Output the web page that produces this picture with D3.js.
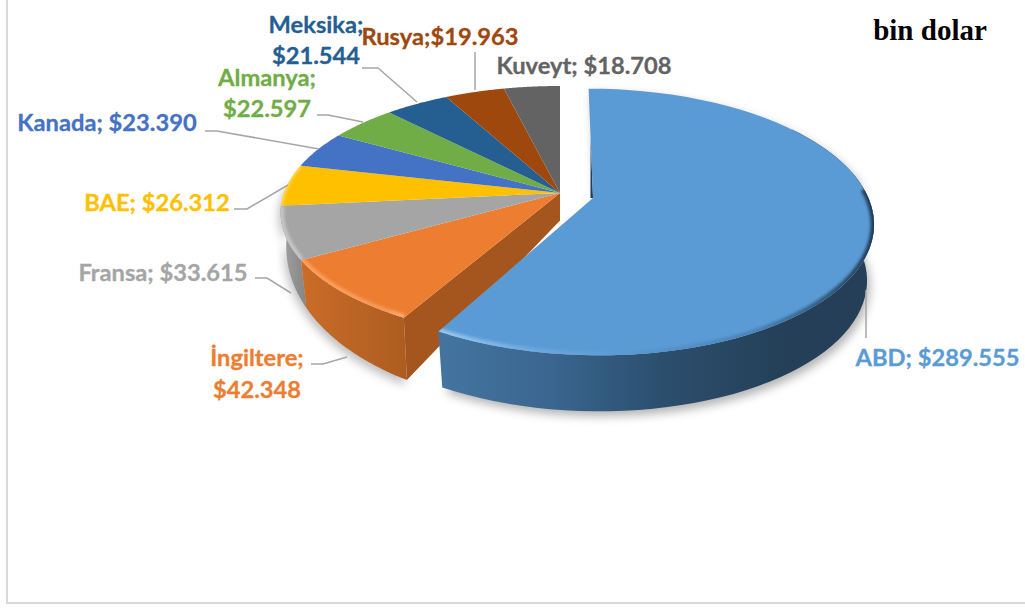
<!DOCTYPE html>
<html><head><meta charset="utf-8">
<script src="https://cdn.jsdelivr.net/npm/d3@7"></script>
<style>html,body{margin:0;padding:0;background:#fff}svg{display:block}</style>
</head><body><svg id="c" width="1025" height="608"></svg>
<script>
const categories = ["ABD","İngiltere","Fransa","BAE","Kanada","Almanya","Meksika","Rusya","Kuveyt"];
const values = [289555,42348,33615,26312,23390,22597,21544,19963,18708];
const valueLabels = ["$289.555","$42.348","$33.615","$26.312","$23.390","$22.597","$21.544","$19.963","$18.708"];
const colors = ["#5B9BD5","#ED7D31","#A5A5A5","#FFC000","#4472C4","#70AD47","#255E91","#9E480E","#636363"];
const unitLabel = "bin dolar";

const labelLines = categories.map((c,i)=>{
  if(c==="Rusya") return [c+";"+valueLabels[i]];
  if(["Meksika","Almanya","İngiltere"].includes(c)) return [c+";",valueLabels[i]];
  return [c+"; "+valueLabels[i]];
});
const labelX = [937.5,257,163,157,107,267,316,440,584];
const labelY = [[366],[366,398],[281],[211],[131],[86,117],[33,64],[45],[74]];
const leaders = [
 [[866,290],[866,338]],
 [[347,357],[323,364],[311,364]],
 [[291,293],[267,278],[255,278]],
 [[288,185],[247,209],[234,209]],
 [[319,149],[217,131],[205,131]],
 [[363,122],[328,115],[317,115]],
 [[417,102],[378,68],[362,68]],
 [[475,90],[475,52]],
 null
];

const svg = d3.select("#c");
const defs = svg.append("defs");
const blur=(id,s)=>defs.append("filter").attr("id",id).attr("filterUnits","userSpaceOnUse")
  .attr("x",0).attr("y",0).attr("width",1025).attr("height",608)
  .append("feGaussianBlur").attr("stdDeviation",s);
blur("b1",1.6); blur("b2",5);
const grad=(id,x1,x2,stops)=>{
  const g=defs.append("linearGradient").attr("id",id).attr("gradientUnits","userSpaceOnUse")
    .attr("x1",x1).attr("x2",x2).attr("y1",0).attr("y2",0);
  stops.forEach(s=>g.append("stop").attr("offset",s[0]).attr("stop-color",s[1]));
};
grad("wallBlue",445,790,[[0,"#43749F"],[.3,"#3A6690"],[.62,"#2C4F6E"],[1,"#243F57"]]);
grad("rimBlue",445,875,[[0,"#97C6F0"],[.2,"#6FA9DE"],[.4,"#5B9BD5"],[.72,"#4A82B4"],[1,"#1E3A53"]]);
grad("wallOrange",303,412,[[0,"#C96C28"],[1,"#AC5B20"]]);
grad("rimOrange",303,408,[[0,"#FFA05C"],[.8,"#F59A5A"],[1,"#FFB27E"]]);
grad("wallGray",283,306,[[0,"#A0A0A0"],[1,"#858585"]]);

const arcs = d3.pie().sort(null).value(d=>d)(values);

const small={ax:560,ay:193,R:276,S:123.6,k:.155,xs:.98,d0:27.5,d1:40,sh:0};
const big  ={ax:593,ay:198,R:275.5,S:129,k:.18,xs:.975,d0:56,d1:0,sh:.04};

function ptTop(t,g,r=1){
  const u=Math.sin(t)*r,v=-Math.cos(t)*r,w=1-g.k*v,Y=g.S*v/w;
  return [g.ax+g.R*u/w+g.sh*Y,g.ay+Y];
}
function ptLow(t,g,r=1){
  const p=ptTop(t,g,r),v=-Math.cos(t)*r;
  return [g.ax+(p[0]-g.ax)*g.xs,p[1]+g.d0+g.d1*v];
}
const line=d3.line();
const samples=(a,b,f,g)=>d3.range(0,61).map(i=>f(a+(b-a)*i/60,g));
const topFace=(a,g)=>line([[g.ax,g.ay],...samples(a.startAngle,a.endAngle,ptTop,g)])+"Z";
const wall=(a0,a1,g)=>line([...samples(a0,a1,ptTop,g),...samples(a0,a1,ptLow,g).reverse()])+"Z";
const rim=(a0,a1,g)=>line(samples(a0,a1,ptTop,g));

svg.append("rect").attr("x",7).attr("y",-3).attr("width",1030).attr("height",606)
  .attr("fill","#fff").attr("stroke","#D9D9D9").attr("stroke-width",2);

const rest=arcs.slice(1);
const a0=rest[0].startAngle,a1=rest[rest.length-1].endAngle;
svg.append("path").attr("d",wall(a0,a0+(a1-a0)*.45,small)).attr("fill","#888").attr("opacity",.55)
  .attr("transform","translate(-2,5)").attr("filter","url(#b2)");

svg.append("path").attr("d",wall(arcs[2].startAngle,arcs[2].endAngle,small)).attr("fill","url(#wallGray)");
svg.append("path").attr("d",wall(arcs[1].startAngle,arcs[1].endAngle,small)).attr("fill","url(#wallOrange)");
const c1=arcs[1].startAngle;
svg.append("path").attr("fill","#A5561F").attr("d",line([[small.ax,small.ay],ptTop(c1,small),ptLow(c1,small),[small.ax,small.ay+small.d0]])+"Z");

svg.append("g").selectAll("path").data(rest).join("path")
  .attr("d",d=>topFace(d,small)).attr("fill",d=>colors[d.index]);

const clip=(id,d)=>defs.append("clipPath").attr("id",id).append("path").attr("d",d);
clip("cpO",topFace(arcs[1],small));
svg.append("g").attr("clip-path","url(#cpO)").append("path").attr("d",rim(arcs[1].startAngle,arcs[1].endAngle,small))
  .attr("fill","none").attr("stroke","url(#rimOrange)").attr("stroke-width",7).attr("filter","url(#b1)");
clip("cpG",topFace(arcs[2],small));
svg.append("g").attr("clip-path","url(#cpG)").append("path").attr("d",rim(arcs[2].startAngle,arcs[2].endAngle,small))
  .attr("fill","none").attr("stroke","#C6C6C6").attr("stroke-width",7).attr("filter","url(#b1)");
clip("cpY",topFace(arcs[3],small));
svg.append("g").attr("clip-path","url(#cpY)").append("path").attr("d",rim(arcs[3].startAngle,arcs[3].endAngle,small))
  .attr("fill","none").attr("stroke","#FFD75A").attr("stroke-width",4).attr("filter","url(#b1)");

const A=arcs[0];
const bigOutline=line([[big.ax,big.ay],...samples(A.startAngle,Math.PI*.45,ptTop,big),...samples(Math.PI*.45,A.endAngle,ptLow,big)])+"Z";
svg.append("path").attr("d",bigOutline).attr("fill","#777").attr("opacity",.55)
  .attr("transform","translate(3,5)").attr("filter","url(#b2)");
svg.append("path").attr("fill","#1F3D58")
  .attr("d",line([ptTop(A.startAngle,big,.5),[big.ax,big.ay],[big.ax-2.5,big.ay]])+"Z");
svg.append("path").attr("d",wall(Math.PI*.3,A.endAngle,big)).attr("fill","url(#wallBlue)");
svg.append("path").attr("d",topFace(A,big)).attr("fill",colors[0]);
clip("cpB",topFace(A,big));
svg.append("g").attr("clip-path","url(#cpB)").append("path").attr("d",rim(A.startAngle+1.5,A.endAngle,big))
  .attr("fill","none").attr("stroke","url(#rimBlue)").attr("stroke-width",7).attr("filter","url(#b1)");

svg.append("g").selectAll("path").data(leaders.filter(Boolean)).join("path")
  .attr("d",d=>line(d)).attr("fill","none").attr("stroke","#A6A6A6").attr("stroke-width",1.5);

const lab=svg.append("g").attr("font-family","Lato, Carlito, sans-serif").attr("font-weight",700).attr("font-size",23.7).attr("text-anchor","middle");
categories.forEach((c,i)=>{
  labelLines[i].forEach((t,j)=>{
    lab.append("text").attr("x",labelX[i]).attr("y",labelY[i][j]).attr("fill",colors[i])
      .attr("stroke",colors[i]).attr("stroke-width",.3).text(t);
  });
});
svg.append("text").attr("x",930).attr("y",40).attr("text-anchor","middle")
  .attr("font-family","'Liberation Serif',serif").attr("font-weight",700).attr("font-size",29).attr("fill","#000").text(unitLabel);
</script></body></html>
